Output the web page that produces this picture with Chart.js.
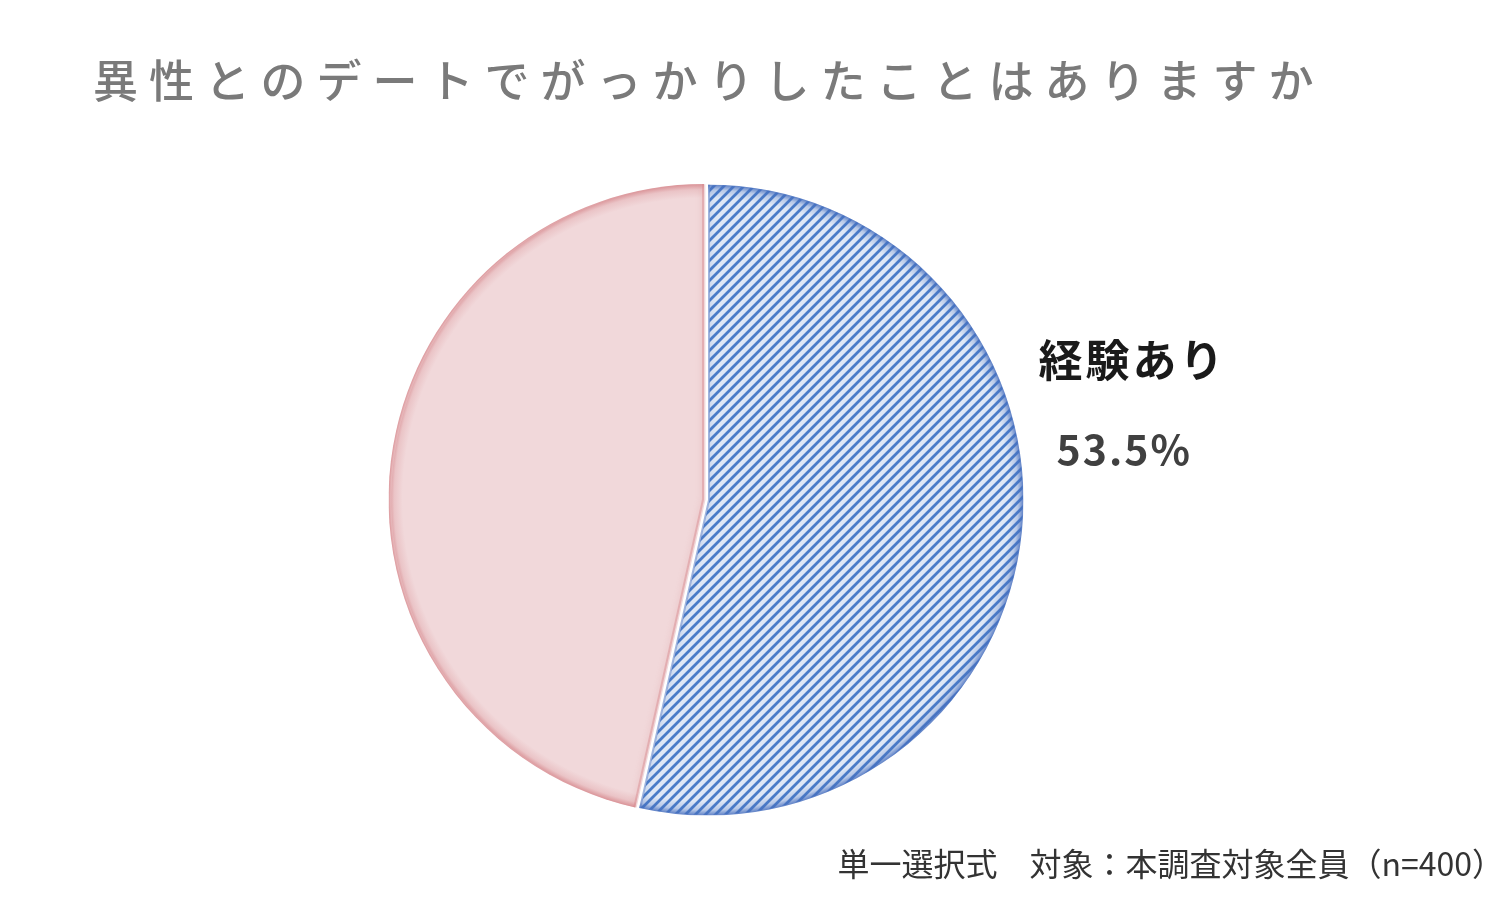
<!DOCTYPE html>
<html lang="ja">
<head>
    <meta charset="UTF-8">
    <title>異性とのデートでがっかりしたことはありますか</title>
    <script src="https://cdn.jsdelivr.net/npm/chart.js"></script>
    <style>
        body {
            margin: 0;
            background: #ffffff;
            font-family: "Noto Sans CJK JP", "Noto Sans", sans-serif;
        }

        .chart-wrap {
            position: relative;
            width: 1494px;
            height: 909px;
            overflow: hidden;
        }

        .chart-title {
            position: absolute;
            left: 93px;
            top: 54px;
            margin: 0;
            font-size: 45px;
            line-height: 50px;
            font-weight: 500;
            letter-spacing: 11px;
            color: #7a7a7a;
            white-space: nowrap;
        }

        .chart-note {
            position: absolute;
            right: -10px;
            top: 842px;
            font-size: 32px;
            line-height: 40px;
            color: #333333;
            white-space: nowrap;
        }

        #pieChart {
            position: absolute;
            left: 0;
            top: 0;
        }
    </style>
</head>
<body>
    <div class="chart-wrap">
        <canvas id="pieChart" width="1494" height="909"></canvas>
        <h1 class="chart-title">異性とのデートでがっかりしたことはありますか</h1>
        <div class="chart-note">単一選択式　対象：本調査対象全員（n=400）</div>
    </div>

    <script>
        // data
        const categories = ['経験あり', '経験なし'];
        const shares = [53.5, 46.5];
        const shownLabels = [true, false];

        // hatched blue fill (diagonal "/" lines)
        function makeHatch() {
            const tile = document.createElement('canvas');
            tile.width = 10;
            tile.height = 10;
            const t = tile.getContext('2d');
            t.fillStyle = '#dfe8f6';
            t.fillRect(0, 0, 10, 10);
            t.strokeStyle = '#4a7cc8';
            t.lineWidth = 2.8;
            t.beginPath();
            t.moveTo(-2, 12); t.lineTo(12, -2);
            t.moveTo(-7, 7); t.lineTo(7, -7);
            t.moveTo(3, 17); t.lineTo(17, 3);
            t.stroke();
            return t.createPattern(tile, 'repeat');
        }

        const canvas = document.getElementById('pieChart');
        const ctx = canvas.getContext('2d');
        const hatch = makeHatch();

        function sliceFill(context) {
            if (context.dataIndex === 0) return hatch;
            return '#f1d8da';
        }

        // soft darker rim on the inside of each slice
        const rimPlugin = {
            id: 'rim',
            afterDatasetsDraw(chart) {
                const g = chart.ctx;
                const rims = [[70, 110, 190], [214, 135, 140]];
                chart.getDatasetMeta(0).data.forEach((arc, i) => {
                    const p = arc.getProps(['x', 'y', 'startAngle', 'endAngle', 'outerRadius']);
                    const off = arc.options.offset || 0;
                    const mid = (p.startAngle + p.endAngle) / 2;
                    const cx = p.x + Math.cos(mid) * off;
                    const cy = p.y + Math.sin(mid) * off;
                    const r = p.outerRadius - 1;
                    const c = rims[i].join(',');
                    g.save();
                    g.beginPath();
                    g.moveTo(cx, cy);
                    g.arc(cx, cy, r, p.startAngle, p.endAngle);
                    g.closePath();
                    g.clip();
                    // outer edge: radial fade
                    const grad = g.createRadialGradient(cx, cy, r - 14, cx, cy, r);
                    grad.addColorStop(0, 'rgba(' + c + ',0)');
                    grad.addColorStop(0.6, 'rgba(' + c + ',0.25)');
                    grad.addColorStop(1, 'rgba(' + c + ',0.85)');
                    g.fillStyle = grad;
                    g.fillRect(cx - r, cy - r, r * 2, r * 2);
                    // straight edges, fainter
                    g.strokeStyle = 'rgba(' + c + ',0.45)';
                    g.shadowColor = 'rgba(' + c + ',0.6)';
                    g.beginPath();
                    g.moveTo(cx + Math.cos(p.startAngle) * r, cy + Math.sin(p.startAngle) * r);
                    g.lineTo(cx, cy);
                    g.lineTo(cx + Math.cos(p.endAngle) * r, cy + Math.sin(p.endAngle) * r);
                    g.lineWidth = 4;
                    g.shadowBlur = 6;
                    g.stroke();
                    g.restore();
                });
            }
        };

        // category name + percentage to the right of the slice
        const sliceLabelPlugin = {
            id: 'sliceLabel',
            afterDraw(chart) {
                const g = chart.ctx;
                const meta = chart.getDatasetMeta(0);
                meta.data.forEach((arc, i) => {
                    if (!shownLabels[i]) return;
                    const p = arc.getProps(['x', 'y', 'outerRadius']);
                    const left = p.x + p.outerRadius + 14;
                    g.save();
                    g.textAlign = 'left';
                    g.textBaseline = 'middle';
                    g.fillStyle = '#1a1a1a';
                    g.font = 'bold 44px "Noto Sans CJK JP", sans-serif';
                    g.letterSpacing = '3px';
                    g.fillText(categories[i], left, p.y - 140);
                    g.fillStyle = '#404040';
                    g.font = 'bold 41px "Noto Sans CJK JP", sans-serif';
                    g.letterSpacing = '2px';
                    g.fillText(shares[i].toFixed(1) + '%', left + 18, p.y - 51);
                    g.restore();
                });
            }
        };

        const pieChart = new Chart(ctx, {
            type: 'pie',
            data: {
                labels: categories,
                datasets: [{
                    data: shares,
                    backgroundColor: sliceFill,
                    borderColor: '#ffffff',
                    borderWidth: 3,
                    offset: [0, 4],
                    hoverOffset: 0
                }]
            },
            options: {
                responsive: false,
                animation: false,
                events: [],
                layout: {
                    padding: { left: 388, right: 466, top: 180, bottom: 89 }
                },
                plugins: {
                    legend: { display: false },
                    tooltip: { enabled: false },
                    title: { display: false }
                }
            },
            plugins: [rimPlugin, sliceLabelPlugin]
        });
    </script>
</body>
</html>
